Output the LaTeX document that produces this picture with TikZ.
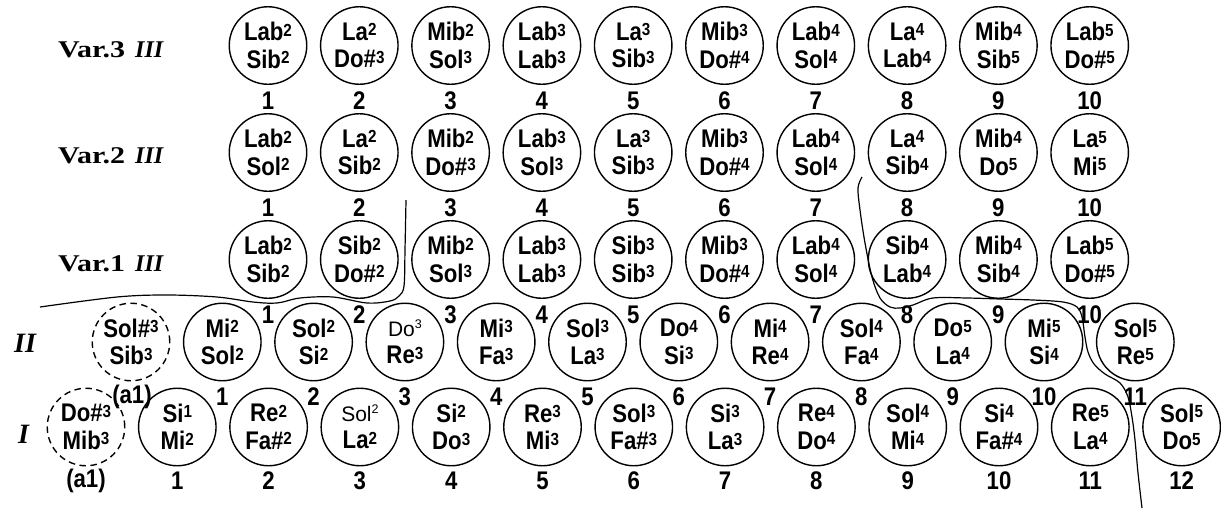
\documentclass[tikz,border=0pt]{standalone}
\usepackage{fontspec}
\usepackage{graphicx}
\newfontfamily\notefont{Liberation Sans}[FakeStretch=0.87]
\newfontfamily\thinfont{Liberation Sans}
\newfontfamily\labfont{Liberation Serif}
\newcommand\upx[1]{\raisebox{4.5pt}{\fontsize{17.5}{17.5}\selectfont #1}}
\newcommand\upl[1]{\raisebox{8pt}{\fontsize{12.5}{12.5}\selectfont #1}}
\newcommand\varlab[1]{\scalebox{1.25}[1]{Var.#1}\hspace{10pt}\textit{III}}
\begin{document}
\begin{tikzpicture}[x=1pt,y=-1pt,
  keybox/.style={circle,draw,line width=1.4pt,minimum size=77.5pt,inner sep=0pt,align=center,
    font=\notefont\bfseries\fontsize{25.5}{27.5}\selectfont},
  spare/.style={keybox,dash pattern=on 6.5pt off 4.5pt},
  numlab/.style={font=\notefont\bfseries\fontsize{25.5}{27.5}\selectfont,inner sep=0pt},
  rowlab/.style={font=\labfont\bfseries\fontsize{24}{25}\selectfont,anchor=base west,inner sep=0pt},
  bigrow/.style={font=\labfont\bfseries\itshape\fontsize{28}{30}\selectfont,anchor=base west,inner sep=0pt},
  curve/.style={line width=1.2pt}]
\useasboundingbox (0,0) rectangle (1221,512);

% ---------- row labels
\node[rowlab] (l3) at (58,57) {\varlab{3}};
\node[rowlab] (l2v) at (58,163) {\varlab{2}};
\node[rowlab] (l1v) at (58,271) {\varlab{1}};
\node[bigrow] (l2) at (14,352) {II};
\node[bigrow] (l1) at (18,443) {I};

% ---------- Var.3
\foreach \p/\q/\r/\s [count=\i] in {Lab/2/Sib/2, La/2/Do\#/3, Mib/2/Sol/3, Lab/3/Lab/3, La/3/Sib/3, Mib/3/Do\#/4, Lab/4/Sol/4, La/4/Lab/4, Mib/4/Sib/5, Lab/5/Do\#/5}{
  \node[keybox] (t\i) at ({176.7+91.3*\i},45.5) {\p\upx{\q}\\\r\upx{\s}};
  \node[numlab] (tn\i) at ({176.7+91.3*\i},100.5) {\i};
}
% ---------- Var.2
\foreach \p/\q/\r/\s [count=\i] in {Lab/2/Sol/2, La/2/Sib/2, Mib/2/Do\#/3, Lab/3/Sol/3, La/3/Sib/3, Mib/3/Do\#/4, Lab/4/Sol/4, La/4/Sib/4, Mib/4/Do/5, La/5/Mi/5}{
  \node[keybox] (u\i) at ({176.7+91.3*\i},152.5) {\p\upx{\q}\\\r\upx{\s}};
  \node[numlab] (un\i) at ({176.7+91.3*\i},207.5) {\i};
}
% ---------- Var.1
\foreach \p/\q/\r/\s [count=\i] in {Lab/2/Sib/2, Sib/2/Do\#/2, Mib/2/Sol/3, Lab/3/Lab/3, Sib/3/Sib/3, Mib/3/Do\#/4, Lab/4/Sol/4, Sib/4/Lab/4, Mib/4/Sib/4, Lab/5/Do\#/5}{
  \node[keybox] (w\i) at ({176.7+91.3*\i},259.5) {\p\upx{\q}\\\r\upx{\s}};
  \node[numlab] (wn\i) at ({176.7+91.3*\i},314.5) {\i};
}

% ---------- row II
\node[spare] (m0) at (131,342) {Sol\#\upx{3}\\Sib\upx{3}};
\node[numlab] (mn0) at (132,397) {(a1)};
\foreach \p/\q/\r/\s [count=\j] in {Mi/2/Sol/2, Sol/2/Si/2}{
  \node[keybox] (m\j) at ({131+91.3*\j},342) {\p\upx{\q}\\\r\upx{\s}};
  \node[numlab] (mn\j) at ({131+91.3*\j},397) {\j};
}
\node[keybox] (m3) at ({131+91.3*3},342) {{\thinfont\mdseries\fontsize{21}{27.5}\selectfont Do\upl{3}}\\Re\upx{3}};
\node[numlab] (mn3) at ({131+91.3*3},397) {3};
\foreach \p/\q/\r/\s [count=\j from 4] in {Mi/3/Fa/3, Sol/3/La/3, Do/4/Si/3, Mi/4/Re/4, Sol/4/Fa/4, Do/5/La/4, Mi/5/Si/4, Sol/5/Re/5}{
  \node[keybox] (m\j) at ({131+91.3*\j},342) {\p\upx{\q}\\\r\upx{\s}};
  \node[numlab] (mn\j) at ({131+91.3*\j},397) {\j};
}

% ---------- row I
\node[spare] (r0) at (86,427) {Do\#\upx{3}\\Mib\upx{3}};
\node[numlab] (rn0) at (86,481) {(a1)};
\foreach \p/\q/\r/\s [count=\k] in {Si/1/Mi/2, Re/2/Fa\#/2}{
  \node[keybox] (r\k) at ({86+91.3*\k},427) {\p\upx{\q}\\\r\upx{\s}};
  \node[numlab] (rn\k) at ({86+91.3*\k},481) {\k};
}
\node[keybox] (r3) at ({86+91.3*3},427) {{\thinfont\mdseries\fontsize{21}{27.5}\selectfont Sol\upl{2}}\\La\upx{2}};
\node[numlab] (rn3) at ({86+91.3*3},481) {3};
\foreach \p/\q/\r/\s [count=\k from 4] in {Si/2/Do/3, Re/3/Mi/3, Sol/3/Fa\#/3, Si/3/La/3, Re/4/Do/4, Sol/4/Mi/4, Si/4/Fa\#/4, Re/5/La/4, Sol/5/Do/5}{
  \node[keybox] (r\k) at ({86+91.3*\k},427) {\p\upx{\q}\\\r\upx{\s}};
  \node[numlab] (rn\k) at ({86+91.3*\k},481) {\k};
}

% ---------- hand-drawn dividing lines
\draw[curve] plot[smooth,tension=0.55] coordinates {(40,307) (117,297) (167,295) (217,297) (253,302) (277,303) (300,298) (333,297) (367,303) (390,301) (399,296) (404,286) (405,250) (406,200)};
\draw[curve] plot[smooth,tension=0.55] coordinates {(862,177) (858,188) (860,210) (865,243) (872,277) (880,298) (890,307) (900,308) (913,305) (933,298) (967,298) (1000,299) (1033,300) (1063,302) (1077,307) (1082,317) (1085,337) (1088,352) (1094,364) (1105,374) (1120,383) (1128,397) (1132,417) (1135,440) (1138,473) (1142,508)};
\end{tikzpicture}
\end{document}
